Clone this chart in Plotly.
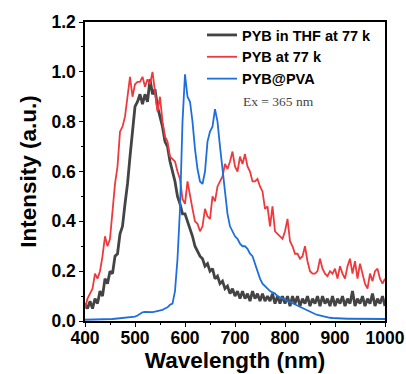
import plotly.graph_objects as go

wavelength = list(range(400, 1001, 5))

thf_77k = [0.07, 0.05, 0.08, 0.05, 0.09, 0.07, 0.12, 0.10, 0.17, 0.15,
           0.20, 0.19, 0.26, 0.27, 0.35, 0.38, 0.47, 0.55, 0.66, 0.77,
           0.86, 0.88, 0.91, 0.87, 0.91, 0.88, 0.97, 0.91, 0.93, 0.86,
           0.82, 0.78, 0.72, 0.70, 0.64, 0.60, 0.56, 0.50, 0.47, 0.43,
           0.43, 0.40, 0.37, 0.34, 0.30, 0.28, 0.26, 0.25, 0.22, 0.23,
           0.20, 0.21, 0.17, 0.18, 0.15, 0.16, 0.13, 0.14, 0.11, 0.13,
           0.10, 0.12, 0.09, 0.12, 0.09, 0.11, 0.08, 0.12, 0.09, 0.11,
           0.08, 0.11, 0.08, 0.10, 0.08, 0.11, 0.07, 0.10, 0.07, 0.10,
           0.07, 0.10, 0.06, 0.10, 0.07, 0.10, 0.06, 0.09, 0.07, 0.10,
           0.06, 0.09, 0.07, 0.10, 0.06, 0.10, 0.07, 0.09, 0.06, 0.10,
           0.06, 0.09, 0.07, 0.10, 0.06, 0.09, 0.07, 0.12, 0.06, 0.09,
           0.07, 0.10, 0.06, 0.09, 0.07, 0.11, 0.06, 0.09, 0.07, 0.10,
           0.06]

solid_77k = [0.05, 0.09, 0.11, 0.13, 0.19, 0.17, 0.20, 0.26, 0.34, 0.30,
             0.33, 0.45, 0.55, 0.62, 0.76, 0.78, 0.82, 0.90, 0.98, 0.90,
             0.95, 0.96, 0.96, 0.98, 0.94, 0.97, 0.95, 1.00, 0.93, 0.84,
             0.90, 0.80, 0.74, 0.72, 0.66, 0.65, 0.64, 0.60, 0.57, 0.49,
             0.47, 0.56, 0.50, 0.45, 0.40, 0.39, 0.36, 0.38, 0.45, 0.42,
             0.41, 0.50, 0.48, 0.54, 0.56, 0.58, 0.63, 0.61, 0.64, 0.68,
             0.62, 0.60, 0.66, 0.63, 0.67, 0.62, 0.60, 0.56, 0.56, 0.57,
             0.54, 0.52, 0.45, 0.46, 0.38, 0.46, 0.36, 0.35, 0.34, 0.33,
             0.36, 0.41, 0.32, 0.30, 0.27, 0.27, 0.25, 0.26, 0.30, 0.24,
             0.20, 0.19, 0.19, 0.20, 0.25, 0.21, 0.19, 0.18, 0.20, 0.19,
             0.21, 0.17, 0.22, 0.19, 0.17, 0.22, 0.25, 0.19, 0.24, 0.17,
             0.23, 0.19, 0.15, 0.13, 0.19, 0.16, 0.20, 0.21, 0.17, 0.15,
             0.17]

pva = [0.005, 0.005, 0.005, 0.005, 0.005, 0.005, 0.006, 0.006, 0.007, 0.007,
       0.008, 0.008, 0.009, 0.010, 0.010, 0.011, 0.012, 0.013, 0.014, 0.016,
       0.018, 0.022, 0.030, 0.035, 0.037, 0.036, 0.035, 0.036, 0.038, 0.040,
       0.041, 0.045, 0.050, 0.055, 0.065, 0.070, 0.120, 0.250, 0.450, 0.800,
       0.990, 0.900, 0.880, 0.800, 0.690, 0.610, 0.560, 0.550, 0.600, 0.720,
       0.760, 0.780, 0.850, 0.800, 0.700, 0.600, 0.500, 0.430, 0.380, 0.360,
       0.340, 0.330, 0.310, 0.300, 0.300, 0.290, 0.270, 0.260, 0.230, 0.200,
       0.170, 0.150, 0.140, 0.130, 0.120, 0.115, 0.110, 0.100, 0.095, 0.090,
       0.085, 0.080, 0.075, 0.070, 0.065, 0.060, 0.055, 0.050, 0.045, 0.040,
       0.036, 0.032, 0.028, 0.025, 0.022, 0.019, 0.017, 0.015, 0.013, 0.012,
       0.011, 0.010, 0.010, 0.010, 0.009, 0.009, 0.009, 0.009, 0.008, 0.008,
       0.008, 0.008, 0.008, 0.008, 0.008, 0.008, 0.008, 0.008, 0.008, 0.008,
       0.008]

names = ["PYB in THF at 77 k", "PYB at 77 k", "PYB@PVA"]
colors = ["#444444", "#ee3a3c", "#1e6fdc"]
widths = [2.8, 1.8, 1.8]

fig = go.Figure()
for name, ys, c, w in zip(names, [thf_77k, solid_77k, pva], colors, widths):
    fig.add_trace(go.Scatter(x=wavelength, y=ys, mode="lines", name=name,
                             line=dict(color=c, width=w)))

FONT = "Liberation Sans, Arial, sans-serif"
axis_common = dict(showline=True, linecolor="black", linewidth=1.5, mirror=True,
                   ticks="outside", ticklen=4, tickwidth=1.2, tickcolor="black",
                   showgrid=False, zeroline=False, automargin=False,
                   tickfont=dict(family=FONT, size=17.5, color="black", weight="bold"))

fig.update_layout(
    width=406, height=374,
    margin=dict(l=85, r=21, t=22, b=53),
    plot_bgcolor="white", paper_bgcolor="white",
    showlegend=True,
    legend=dict(x=0.39, y=1.01, xanchor="left", yanchor="top",
                bgcolor="rgba(0,0,0,0)", borderwidth=0,
                font=dict(family=FONT, size=14.5, color="black", weight="bold"),
                itemwidth=30, tracegroupgap=0),
    xaxis=dict(range=[400, 1000], tickvals=[400, 500, 600, 700, 800, 900, 1000],
               ticklabelstandoff=-4,
               minor=dict(ticks="outside", ticklen=2.5, tickcolor="black", dtick=50),
               title=dict(text="Wavelength (nm)", standoff=3,
                          font=dict(family=FONT, size=22.5, color="black", weight="bold")),
               **axis_common),
    yaxis=dict(range=[0, 1.2], tickvals=[0, 0.2, 0.4, 0.6, 0.8, 1.0, 1.2],
               tickformat=".1f",
               minor=dict(ticks="outside", ticklen=2.5, tickcolor="black", dtick=0.1),
               title=dict(text="Intensity (a.u.)", standoff=9,
                          font=dict(family=FONT, size=22.5, color="black", weight="bold")),
               **axis_common),
    annotations=[dict(text="Ex = 365 nm", xref="paper", yref="paper",
                      x=0.52, y=0.735, xanchor="left", yanchor="middle",
                      showarrow=False,
                      font=dict(family="Liberation Serif, Times New Roman, serif",
                                size=13.5, color="#444444"))],
)

fig.write_html("out.html", config={"displayModeBar": False},
               post_script="document.body.style.margin='0';document.body.style.overflow='hidden';")
